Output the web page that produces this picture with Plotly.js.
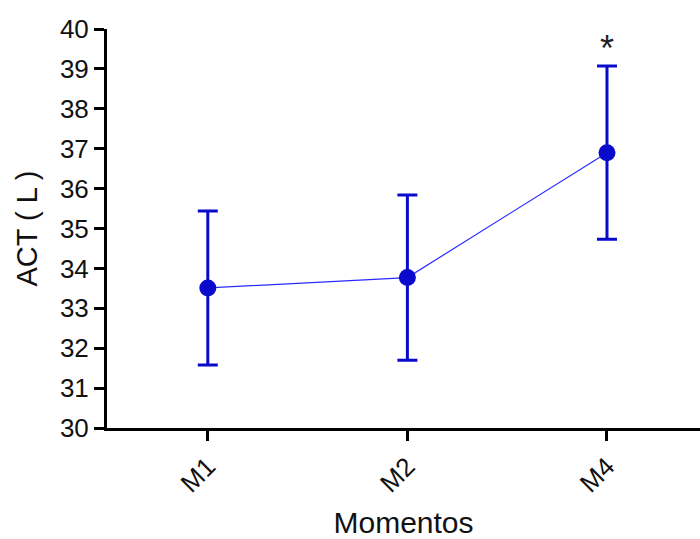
<!DOCTYPE html>
<html>
<head>
<meta charset="utf-8">
<script src="https://cdn.plot.ly/plotly-3.0.1.min.js"></script>
<style>html,body{margin:0;padding:0;background:#fff;}#chart{width:700px;height:539px;}</style>
</head>
<body>
<div id="chart"></div>
<script>
const categories = ['M1', 'M2', 'M4'];
const means = [33.51, 33.77, 36.90];
const errors = [1.93, 2.07, 2.17];
const yTicks = [30, 31, 32, 33, 34, 35, 36, 37, 38, 39, 40];
const markText = ['', '', '*'];

const trace = {
  x: categories,
  y: means,
  type: 'scatter',
  mode: 'lines+markers',
  line: {color: '#2a2aff', width: 1.2},
  marker: {color: '#0a0acc', size: 17, symbol: 'circle'},
  error_y: {type: 'data', array: errors, visible: true, color: '#0a0acc', thickness: 3, width: 10},
  cliponaxis: false,
  showlegend: false
};

const annotations = categories.map((c, i) => markText[i] ? {
  x: c, y: means[i] + errors[i], xref: 'x', yref: 'y', text: markText[i],
  showarrow: false, yshift: 18, font: {family: 'Liberation Sans, Arial, sans-serif', size: 36, color: '#222'}
} : null).filter(a => a);

const layout = {
  width: 700, height: 539,
  margin: {l: 107, r: 0, t: 29, b: 111},
  paper_bgcolor: '#fff', plot_bgcolor: '#fff',
  font: {family: 'Liberation Sans, Arial, sans-serif', color: '#111'},
  xaxis: {
    type: 'category',
    range: [-0.505, 2.466],
    showgrid: false, zeroline: false,
    showline: true, linecolor: '#000', linewidth: 3,
    ticks: 'outside', ticklen: 10, tickwidth: 3, tickcolor: '#000',
    tickangle: -45,
    tickfont: {size: 26, color: '#111'},
    title: {text: 'Momentos', font: {size: 30, color: '#111'}, standoff: 18}
  },
  yaxis: {
    range: [30, 40],
    tickvals: yTicks,
    ticktext: yTicks.map(String),
    showgrid: false, zeroline: false,
    showline: true, linecolor: '#000', linewidth: 3,
    ticks: 'outside', ticklen: 10, tickwidth: 3, tickcolor: '#000',
    tickfont: {size: 26, color: '#111'},
    title: {text: 'ACT ( L )', font: {size: 29, color: '#111'}, standoff: 14}
  },
  annotations: annotations
};

Plotly.newPlot('chart', [trace], layout, {displayModeBar: false, staticPlot: true});
</script>
</body>
</html>
